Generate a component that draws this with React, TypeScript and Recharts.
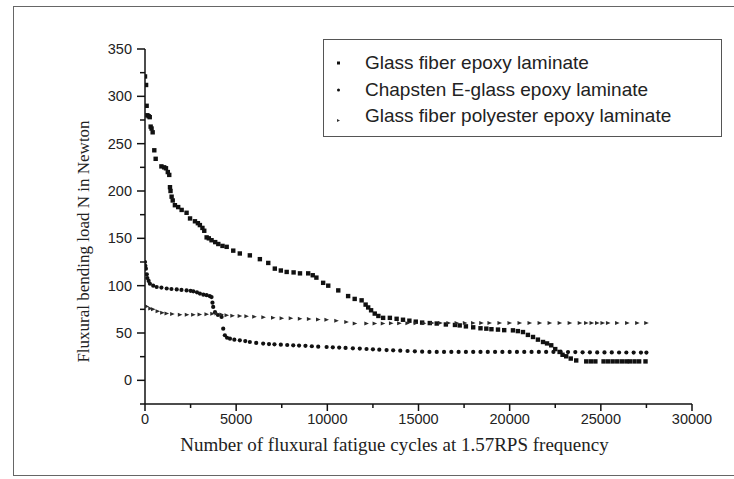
import { ScatterChart, Scatter, XAxis, YAxis, Legend } from "recharts"

// cycles vs load (N)
const glassEpoxy: [number, number][] = [
    [0, 321], [60, 312], [90, 290], [130, 280], [200, 279], [260, 278], [310, 268], [360, 266], [420, 262],
    [510, 243], [585, 234], [900, 226], [1050, 225], [1150, 224], [1250, 220], [1330, 217], [1370, 204],
    [1400, 200], [1460, 194], [1520, 190], [1640, 185], [1820, 183], [2010, 180], [2280, 177], [2470, 171],
    [2740, 168], [2900, 166], [3010, 164], [3150, 161], [3250, 158], [3380, 151], [3500, 150], [3650, 148],
    [3850, 146], [4020, 144], [4250, 142], [4480, 141], [4840, 137], [5200, 134], [5750, 132], [6300, 128],
    [6760, 124], [7120, 118], [7450, 116], [7770, 114.5], [8150, 114], [8500, 113], [8950, 113], [9200, 111],
    [9400, 108.5], [9770, 103], [10050, 100], [10600, 95], [11140, 89], [11500, 86], [11880, 84.5], [12100, 80],
    [12240, 77], [12400, 74], [12600, 70.5], [12800, 68], [13060, 66], [13430, 66], [13800, 65], [14150, 64],
    [14500, 63], [14850, 62], [15200, 61], [15620, 60.5], [16000, 60], [16500, 59], [17000, 58.5], [17260, 58],
    [17600, 57], [18000, 56], [18400, 55], [18720, 54.6], [19000, 54], [19360, 53.6], [19700, 53], [20180, 52.8],
    [20450, 52], [20730, 51], [21000, 48], [21280, 45.8], [21550, 43], [21830, 40.5], [22050, 39], [22280, 37],
    [22500, 33], [22740, 30], [22900, 27], [23100, 25.4], [23350, 23], [23650, 21], [24200, 20], [24450, 20],
    [24700, 20], [25150, 20], [25400, 20], [25650, 20], [25900, 20], [26150, 20], [26400, 20], [26600, 20],
    [26850, 20], [27100, 20], [27450, 20],
]

const chapsten: [number, number][] = [
    [0, 125], [20, 121], [50, 118], [100, 112], [130, 108], [200, 105], [270, 102], [450, 100], [640, 98.6],
    [900, 98], [1190, 97], [1450, 96.5], [1740, 96], [2000, 95.5], [2280, 95], [2500, 94.5], [2650, 94],
    [2850, 93], [3010, 91.6], [3200, 90.5], [3380, 90], [3550, 89], [3650, 88], [3700, 82], [3740, 77.5],
    [3840, 72], [4000, 69], [4200, 67], [4290, 54.6], [4380, 47.6], [4500, 45], [4660, 44], [4900, 43],
    [5200, 42.3], [5500, 41.5], [5750, 40.5], [6100, 39.5], [6480, 38.8], [6800, 38.3], [7100, 38], [7450, 37.7],
    [7800, 37.3], [8130, 37], [8450, 36.7], [8800, 36.4], [9150, 36], [9500, 35.6], [9960, 35.2], [10300, 34.9],
    [10650, 34.6], [11000, 34.2], [11400, 33.8], [11780, 33.5], [12150, 33.1], [12500, 32.8], [12850, 32.4],
    [13250, 32], [13610, 31.7], [14000, 31.3], [14400, 31], [14800, 30.6], [15200, 30.3], [15600, 30],
    [16000, 30], [16400, 30], [16800, 30], [17200, 30], [17600, 30], [18000, 30], [18400, 30], [18800, 30],
    [19200, 30], [19600, 30], [20000, 30], [20400, 30], [20800, 30], [21200, 30], [21600, 30], [22000, 30],
    [22400, 30], [22800, 30], [23200, 29.8], [23600, 29.8], [24000, 29.6], [24400, 29.6], [24800, 29.5],
    [25200, 29.5], [25600, 29.5], [26000, 29.4], [26400, 29.4], [26800, 29.3], [27200, 29.3], [27500, 29.3],
]

const polyester: [number, number][] = [
    [0, 79], [100, 78], [300, 76], [450, 75], [700, 73], [950, 71.5], [1190, 70.5], [1500, 70], [1920, 69.4],
    [2300, 69.4], [2650, 69.4], [3000, 69.6], [3380, 69.8], [3700, 70.3], [3930, 70.5], [4200, 69.5],
    [4480, 68.7], [4800, 68.3], [5200, 68], [5570, 67.6], [6000, 67.2], [6500, 66.7], [7030, 66.2], [7500, 65.7],
    [8000, 65.5], [8500, 65], [9000, 64.7], [9500, 64.3], [9960, 64], [10500, 63], [11050, 61.6], [11510, 60],
    [12150, 60], [12600, 60], [13050, 60], [13500, 60.2], [13950, 60.3], [14400, 60.3], [14850, 60.4],
    [15300, 60.4], [15750, 60.5], [16200, 60.5], [16650, 60.5], [17100, 60.5], [17550, 60.5], [18000, 60.5],
    [18450, 60.5], [18900, 60.5], [19450, 60.5], [20000, 60.5], [20550, 60.5], [21100, 60.5], [21650, 60.5],
    [22200, 60.5], [22750, 60.5], [23300, 60.5], [23850, 60.5], [24200, 60.5], [24500, 60.5], [24800, 60.5],
    [25100, 60.5], [25400, 60.5], [25900, 60.5], [26450, 60.5], [27000, 60.5], [27500, 60.5],
]

const seriesNames = [
    "Glass fiber epoxy laminate",
    "Chapsten E-glass epoxy laminate",
    "Glass fiber polyester epoxy laminate",
]

const xTicks = [0, 2500, 5000, 7500, 10000, 12500, 15000, 17500, 20000, 22500, 25000, 27500, 30000]
const yTicks = [-25, 0, 25, 50, 75, 100, 125, 150, 175, 200, 225, 250, 275, 300, 325, 350]

const xTitle = "Number of fluxural fatigue cycles at 1.57RPS frequency"
const yTitle = "Fluxural bending load N in Newton"

const toPoints = (rows: [number, number][]) => rows.map(([x, y]) => ({ x, y }))

const SANS = '"Liberation Sans", Arial, sans-serif'
const SERIF = '"Liberation Serif", "Times New Roman", serif'
const INK = "#111"

const SquareDot = ({ cx, cy }: any) => <rect x={cx - 2.2} y={cy - 2.2} width={4.4} height={4.4} fill={INK} />
const RoundDot = ({ cx, cy }: any) => <circle cx={cx} cy={cy} r={2.1} fill={INK} />
const RightTri = ({ cx, cy }: any) => (
    <path d={`M${cx - 2.2},${cy - 2} L${cx + 2.4},${cy} L${cx - 2.2},${cy + 2} Z`} fill="#2a2a2a" />
)

function XTick({ x, y, payload }: any) {
    const major = payload.value % 5000 === 0
    return (
        <g>
            <line x1={x} y1={y} x2={x} y2={y + (major ? 7 : 4)} stroke={INK} strokeWidth={1.5} />
            {major && (
                <text x={x} y={y + 20} textAnchor="middle" fontSize={14.5} fontFamily={SANS} fill="#222">
                    {payload.value}
                </text>
            )}
        </g>
    )
}

function YTick({ x, y, payload }: any) {
    const major = payload.value % 50 === 0
    return (
        <g>
            <line x1={x} y1={y} x2={x - (major ? 8 : 5)} y2={y} stroke={INK} strokeWidth={1.5} />
            {major && (
                <text x={x - 13} y={y + 5} textAnchor="end" fontSize={14.5} fontFamily={SANS} fill="#222">
                    {payload.value}
                </text>
            )}
        </g>
    )
}

const XTitle = (props: any) => {
    const vb = props.viewBox ?? { x: 145, y: 404, width: 547, height: 30 }
    return (
        <text x={vb.x + vb.width / 2 - 24} y={vb.y + 47} textAnchor="middle" fontSize={19} fontFamily={SERIF} fill="#222">
            {xTitle}
        </text>
    )
}

const YTitle = (props: any) => {
    const vb = props.viewBox ?? { x: 85, y: 49, width: 60, height: 355 }
    return (
        <text
            transform={`translate(${vb.x + 4}, ${vb.y + vb.height / 2 + 15}) rotate(-90)`}
            textAnchor="middle"
            fontSize={17}
            fontFamily={SERIF}
            fill="#222"
        >
            {yTitle}
        </text>
    )
}

const legendMarkers = [
    <rect x={13} y={-1.5} width={3} height={3} fill={INK} />,
    <circle cx={14.5} cy={0} r={1.5} fill={INK} />,
    <path d="M13,3 L16,4.5 L13,6 Z" fill="#333" />,
]

function LegendBox() {
    return (
        <div
            style={{
                width: 399,
                height: 98,
                border: "1.5px solid #555",
                boxSizing: "border-box",
                position: "relative",
                background: "#fff",
            }}
        >
            {seriesNames.map((name, i) => (
                <div key={name} style={{ position: "absolute", left: 0, top: 10 + i * 26.5, height: 26, width: 390 }}>
                    <svg width={30} height={26} style={{ position: "absolute", left: 0, top: 0 }}>
                        <g transform="translate(0,13)">{legendMarkers[i]}</g>
                    </svg>
                    <span
                        style={{
                            position: "absolute",
                            left: 41,
                            top: 0,
                            lineHeight: "26px",
                            fontSize: 19,
                            fontFamily: SANS,
                            color: "#222",
                            whiteSpace: "nowrap",
                        }}
                    >
                        {name}
                    </span>
                </div>
            ))}
        </div>
    )
}

export default function App() {
    return (
        <div style={{ position: "absolute", left: 0, top: 0, width: 734, height: 479, overflow: "hidden", background: "#fff" }}>
            {/* scanned page frame */}
            <div
                style={{
                    position: "absolute",
                    left: 13,
                    top: 6,
                    width: 740,
                    height: 470,
                    border: "1.5px solid #666",
                    borderRight: "none",
                    boxSizing: "border-box",
                }}
            />
            <ScatterChart
                width={734}
                height={479}
                margin={{ top: 49, right: 42, bottom: 45, left: 85 }}
                style={{ position: "absolute", left: 0, top: 0 }}
            >
                <XAxis
                    type="number"
                    dataKey="x"
                    domain={[0, 30000]}
                    ticks={xTicks}
                    interval={0}
                    height={30}
                    tickSize={0}
                    tickMargin={0}
                    tickLine={false}
                    tick={<XTick />}
                    axisLine={{ stroke: INK, strokeWidth: 1.5 }}
                    allowDataOverflow
                    label={{ content: <XTitle /> }}
                />
                <YAxis
                    type="number"
                    dataKey="y"
                    domain={[-25, 350]}
                    ticks={yTicks}
                    interval={0}
                    width={60}
                    tickSize={0}
                    tickMargin={0}
                    tickLine={false}
                    tick={<YTick />}
                    axisLine={{ stroke: INK, strokeWidth: 1.5 }}
                    allowDataOverflow
                    label={{ content: <YTitle /> }}
                />
                <Legend
                    layout="vertical"
                    align="center"
                    verticalAlign="middle"
                    content={<LegendBox />}
                    wrapperStyle={{ position: "absolute", left: 323, top: 39, width: 399, height: 98 }}
                />
                <Scatter name={seriesNames[0]} data={toPoints(glassEpoxy)} shape={SquareDot} isAnimationActive={false} />
                <Scatter name={seriesNames[1]} data={toPoints(chapsten)} shape={RoundDot} isAnimationActive={false} />
                <Scatter name={seriesNames[2]} data={toPoints(polyester)} shape={RightTri} isAnimationActive={false} />
            </ScatterChart>
        </div>
    )
}
